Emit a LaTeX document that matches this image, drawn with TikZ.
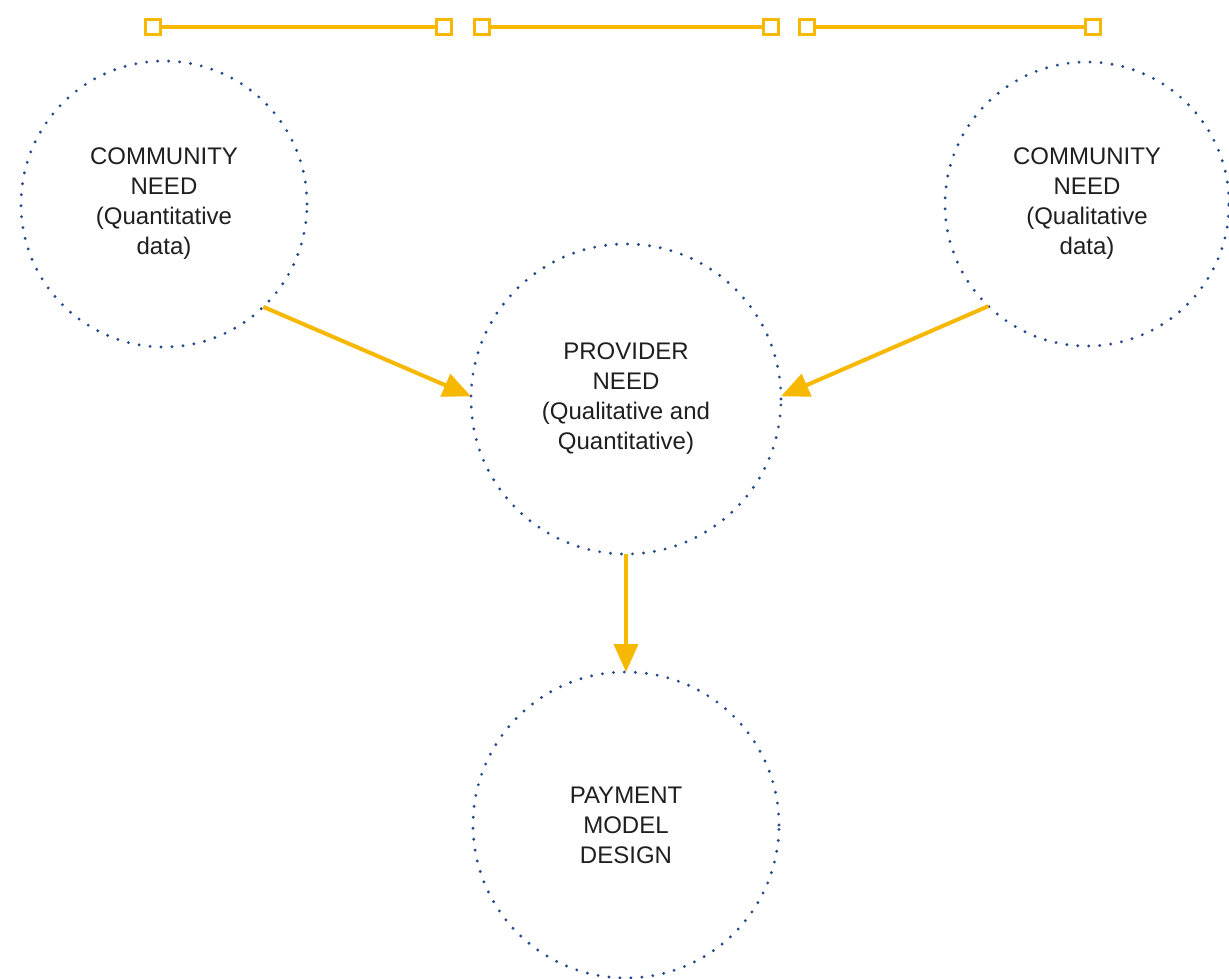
\documentclass[tikz,border=0pt]{standalone}
\usepackage{fontspec}
\setmainfont{Liberation Sans}
\usetikzlibrary{arrows.meta}
\definecolor{dotblue}{RGB}{38,72,140}
\definecolor{gold}{RGB}{246,184,0}
\begin{document}
\begin{tikzpicture}[x=1pt,y=-1pt,
  need/.style={circle, draw=dotblue, line width=3.2pt, dash pattern=on 0pt off 11pt,
    line cap=round, align=center, inner sep=0pt, outer sep=0pt,
    font=\fontsize{24}{30}\selectfont, text=black!88},
  flow/.style={draw=gold, line width=4pt, -{Triangle[length=28pt,width=24pt]}},
  sq/.style={rectangle, draw=gold, fill=white, line width=3.5pt, minimum size=15pt, inner sep=0pt, outer sep=0pt},
  bar/.style={draw=gold, line width=3.5pt}
]
\fill[white] (0,0) rectangle (1229,979);
\useasboundingbox (0,0) rectangle (1229,979);

% top timeline bars
\node[sq] (a1) at (153,27) {};
\node[sq] (a2) at (444,27) {};
\node[sq] (b1) at (482,27) {};
\node[sq] (b2) at (771,27) {};
\node[sq] (c1) at (807,27) {};
\node[sq] (c2) at (1093,27) {};
\draw[bar] (a1) -- (a2);
\draw[bar] (b1) -- (b2);
\draw[bar] (c1) -- (c2);

% circles
\node[need, minimum size=286pt] (L) at (164,204) {COMMUNITY\\NEED\\(Quantitative\\data)};
\node[need, minimum size=284pt] (R) at (1087,204) {COMMUNITY\\NEED\\(Qualitative\\data)};
\node[need, minimum size=310pt] (M) at (626,399) {PROVIDER\\NEED\\(Qualitative and\\Quantitative)};
\node[need, minimum size=306pt] (B) at (626,825) {PAYMENT\\MODEL\\DESIGN};

% arrows
\draw[flow] (L.-46) -- (M.179);
\draw[flow] (R.-134) -- (M.1);
\draw[flow] (M.south) -- (B.north);
\end{tikzpicture}
\end{document}
